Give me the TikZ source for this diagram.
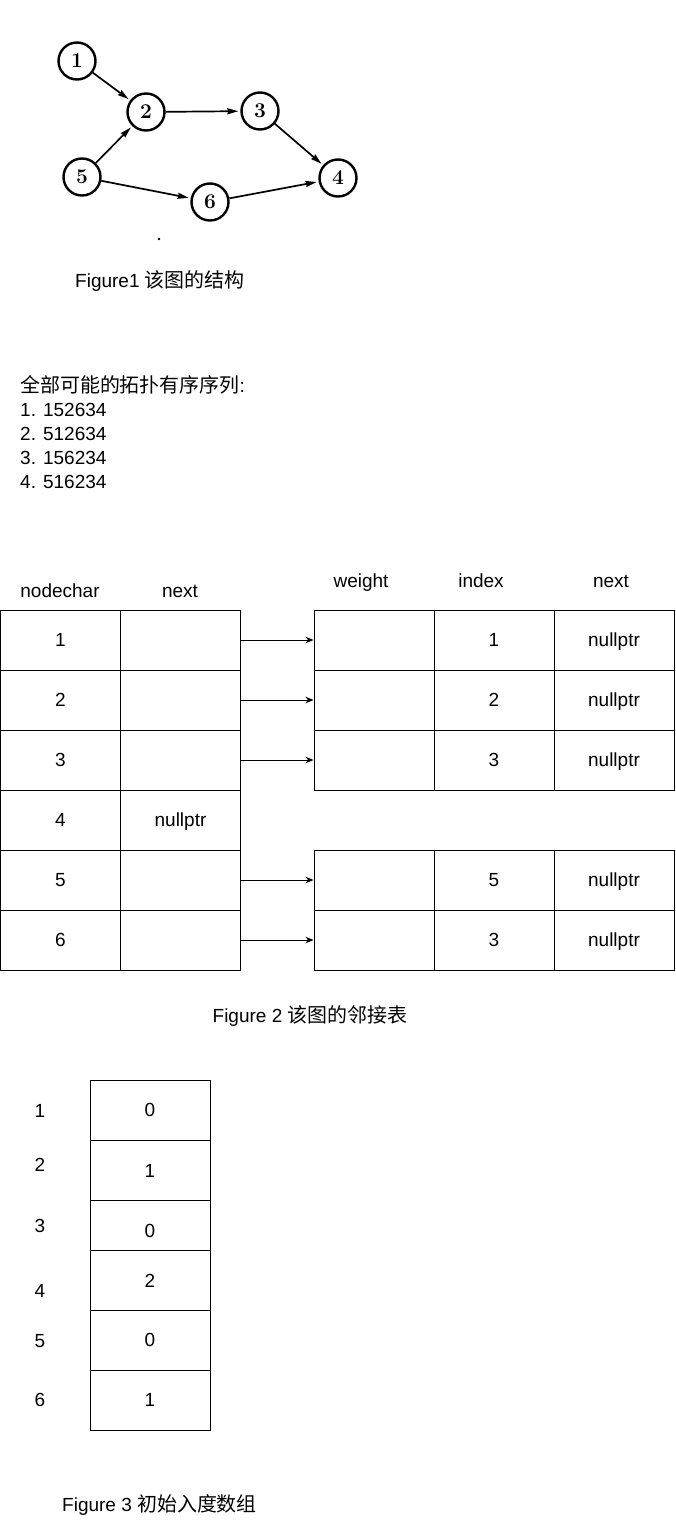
\documentclass[tikz,border=0pt]{standalone}
\usepackage{fontspec}
\setmainfont{Liberation Sans}
\newfontfamily\cjk[Scale=1.05]{Noto Sans CJK SC}
\newfontfamily\lmserif{Latin Modern Roman}
\usetikzlibrary{arrows.meta}
\tikzset{
  vert/.style={draw, circle, line width=2.4pt, minimum size=37pt, inner sep=0pt, font=\lmserif\bfseries\fontsize{21}{21}\selectfont},
  edge/.style={line width=1.7pt, shorten >=2pt, -{Stealth[length=11pt,width=6pt,inset=1pt]}},
  cell/.style={draw, line width=1pt, minimum width=120pt, minimum height=60pt, inner sep=0pt, text height=13.6pt, text depth=0pt},
  ptr/.style={line width=1pt, -{Stealth[length=8pt,width=6.5pt]}},
  txt/.style={inner sep=0pt, text height=13.6pt, text depth=0pt}
}
\begin{document}
\begin{tikzpicture}[x=1pt, y=-1pt, font=\fontsize{19}{23}\selectfont]
\useasboundingbox[fill=white] (0,0) rectangle (675,1521);
\node [vert] (g1) at (77, 61) {1};
\node [vert] (g2) at (146, 112) {2};
\node [vert] (g3) at (260, 111) {3};
\node [vert] (g4) at (338, 178) {4};
\node [vert] (g5) at (82, 177) {5};
\node [vert] (g6) at (210, 202) {6};
\draw [edge] (g1) -- (g2);
\draw [edge] (g5) -- (g2);
\draw [edge] (g2) -- (g3);
\draw [edge] (g3) -- (g4);
\draw [edge] (g5) -- (g6);
\draw [edge] (g6) -- (g4);
\fill (159, 239) circle (1.4);
\node [txt, anchor=west] (cap1) at (75, 281) {Figure1 {\cjk 该图的结构}};

\node [txt, anchor=west] (seq0) at (20, 386) {{\cjk 全部可能的拓扑有序序列}:};
\node [txt, anchor=west] (seq1) at (20, 410) {1. 152634};
\node [txt, anchor=west] (seq2) at (20, 434) {2. 512634};
\node [txt, anchor=west] (seq3) at (20, 458) {3. 156234};
\node [txt, anchor=west] (seq4) at (20, 482) {4. 516234};

\node [txt] (h1) at (60, 591) {nodechar};
\node [txt] (h2) at (180, 591) {next};
\node [txt] (h3) at (361, 581) {weight};
\node [txt] (h4) at (481, 581) {index};
\node [txt] (h5) at (611, 581) {next};

\node [cell] (c11) at (60.5, 640) {1};
\node [cell] (c12) at (180.5, 640) {};
\node [cell] (c21) at (60.5, 700) {2};
\node [cell] (c22) at (180.5, 700) {};
\node [cell] (c31) at (60.5, 760) {3};
\node [cell] (c32) at (180.5, 760) {};
\node [cell] (c41) at (60.5, 820) {4};
\node [cell] (c42) at (180.5, 820) {nullptr};
\node [cell] (c51) at (60.5, 880) {5};
\node [cell] (c52) at (180.5, 880) {};
\node [cell] (c61) at (60.5, 940) {6};
\node [cell] (c62) at (180.5, 940) {};

\node [cell] (w1) at (374, 640) {};
\node [cell] (i1) at (494, 640) {1};
\node [cell] (x1) at (614, 640) {nullptr};
\node [cell] (w2) at (374, 700) {};
\node [cell] (i2) at (494, 700) {2};
\node [cell] (x2) at (614, 700) {nullptr};
\node [cell] (w3) at (374, 760) {};
\node [cell] (i3) at (494, 760) {3};
\node [cell] (x3) at (614, 760) {nullptr};
\node [cell] (w5) at (374, 880) {};
\node [cell] (i5) at (494, 880) {5};
\node [cell] (x5) at (614, 880) {nullptr};
\node [cell] (w6) at (374, 940) {};
\node [cell] (i6) at (494, 940) {3};
\node [cell] (x6) at (614, 940) {nullptr};

\draw [ptr] (c12.east) -- (w1.west);
\draw [ptr] (c22.east) -- (w2.west);
\draw [ptr] (c32.east) -- (w3.west);
\draw [ptr] (c52.east) -- (w5.west);
\draw [ptr] (c62.east) -- (w6.west);
\node [txt] (cap2) at (310, 1016) {Figure 2 {\cjk 该图的邻接表}};

\node [txt] (r1) at (40, 1111) {1};
\node [txt] (r2) at (40, 1165) {2};
\node [txt] (r3) at (40, 1226) {3};
\node [txt] (r4) at (40, 1291) {4};
\node [txt] (r5) at (40, 1341) {5};
\node [txt] (r6) at (40, 1400) {6};
\node [cell] (d1) at (150, 1110) {0};
\node [cell] (d2) at (150, 1170) {};
\node [cell, minimum height=50pt] (d3) at (150, 1225) {};
\node [cell] (d4) at (150, 1280) {};
\node [cell] (d5) at (150, 1340) {0};
\node [cell] (d6) at (150, 1400) {1};
\node [txt] (v2) at (150, 1171) {1};
\node [txt] (v3) at (150, 1231) {0};
\node [txt] (v4) at (150, 1281) {2};
\node [txt, anchor=west] (cap3) at (62, 1505) {Figure 3 {\cjk 初始入度数组}};
\end{tikzpicture}
\end{document}
